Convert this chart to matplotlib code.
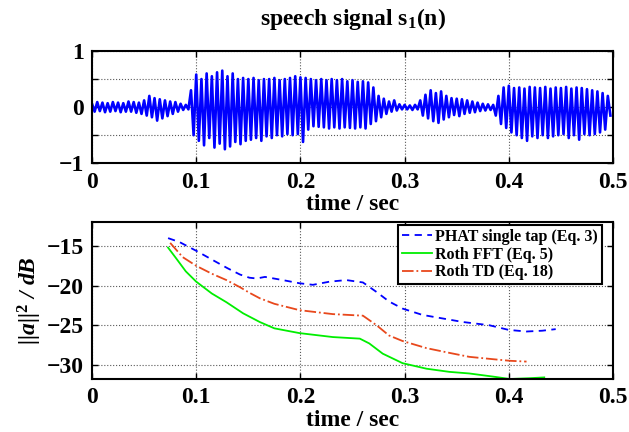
import numpy as np
import matplotlib
matplotlib.use('Agg')
import matplotlib.pyplot as plt

plt.rcParams['font.family'] = 'serif'
plt.rcParams['font.serif'] = ['Liberation Serif', 'DejaVu Serif']
plt.rcParams['font.weight'] = 'bold'
plt.rcParams['mathtext.fontset'] = 'custom'
plt.rcParams['mathtext.rm'] = 'Liberation Serif:bold'
plt.rcParams['mathtext.it'] = 'Liberation Serif:italic:bold'
plt.rcParams['mathtext.bf'] = 'Liberation Serif:bold'

# speech signal, peak values every 2.5 ms
speech = [
    0.06, -0.08, 0.09, -0.07, 0.08, -0.09, 0.07, -0.08, 0.09, -0.07,
    0.08, -0.09, 0.07, -0.08, 0.10, -0.08, 0.09, -0.10, 0.08, -0.12,
    0.12, -0.15, 0.20, -0.18, 0.16, -0.24, 0.14, -0.20, 0.12, -0.16,
    0.10, -0.12, 0.09, -0.08, 0.06, -0.05, 0.04, -0.04, 0.30, -0.50,
    0.58, -0.60, 0.50, -0.68, 0.60, -0.55, 0.55, -0.72, 0.62, -0.65,
    0.65, -0.75, 0.55, -0.70, 0.60, -0.62, 0.50, -0.66, 0.52, -0.60,
    0.50, -0.58, 0.52, -0.55, 0.48, -0.60, 0.50, -0.52, 0.50, -0.55,
    0.52, -0.50, 0.48, -0.52, 0.50, -0.48, 0.52, -0.50, 0.55, -0.48,
    0.53, -0.62, 0.52, -0.40, 0.50, -0.34, 0.48, -0.35, 0.50, -0.36,
    0.48, -0.38, 0.50, -0.36, 0.48, -0.38, 0.50, -0.36, 0.46, -0.37,
    0.48, -0.38, 0.45, -0.36, 0.46, -0.38, 0.44, -0.30, 0.35, -0.25,
    0.20, -0.18, 0.15, -0.12, 0.10, -0.08, 0.12, -0.06, 0.05, -0.04,
    0.04, -0.04, 0.03, -0.05, 0.04, -0.04, 0.12, -0.15, 0.22, -0.20,
    0.30, -0.25, 0.25, -0.28, 0.28, -0.22, 0.20, -0.18, 0.16, -0.14,
    0.15, -0.16, 0.14, -0.12, 0.12, -0.10, 0.10, -0.09, 0.08, -0.07,
    0.06, -0.06, 0.05, -0.05, 0.04, -0.15, 0.20, -0.30, 0.35, -0.37,
    0.38, -0.45, 0.34, -0.50, 0.35, -0.55, 0.33, -0.60, 0.36, -0.52,
    0.35, -0.55, 0.34, -0.50, 0.36, -0.55, 0.33, -0.52, 0.35, -0.50,
    0.34, -0.48, 0.36, -0.55, 0.33, -0.50, 0.35, -0.58, 0.34, -0.48,
    0.32, -0.50, 0.30, -0.48, 0.28, -0.45, 0.25, -0.40, 0.20, -0.15,
]
speech_t = np.arange(len(speech)) * 0.0025

# misalignment curves (dB)
phat_t = [0.073, 0.084, 0.100, 0.119, 0.130, 0.142, 0.151, 0.158, 0.166, 0.183,
          0.199, 0.212, 0.228, 0.244, 0.260, 0.273, 0.285, 0.298, 0.317, 0.343,
          0.356, 0.381, 0.400, 0.417, 0.432, 0.445]
phat_db = [-14.0, -14.5, -15.6, -17.0, -17.8, -18.6, -19.0, -19.1, -18.9, -19.3,
           -19.7, -19.9, -19.5, -19.3, -19.6, -20.8, -22.0, -22.9, -23.7, -24.3,
           -24.6, -25.0, -25.6, -25.8, -25.7, -25.5]

fft_t = [0.073, 0.081, 0.090, 0.100, 0.115, 0.129, 0.145, 0.161, 0.175, 0.199,
         0.231, 0.257, 0.266, 0.279, 0.298, 0.321, 0.343, 0.362, 0.385, 0.401,
         0.420, 0.434]
fft_db = [-15.2, -16.6, -18.2, -19.5, -21.0, -22.1, -23.5, -24.6, -25.4, -26.0,
          -26.5, -26.7, -27.3, -28.6, -29.8, -30.5, -30.9, -31.1, -31.5, -31.8,
          -31.7, -31.6]

td_t = [0.075, 0.087, 0.100, 0.115, 0.129, 0.142, 0.151, 0.161, 0.175, 0.199,
        0.231, 0.260, 0.273, 0.285, 0.298, 0.321, 0.343, 0.362, 0.385, 0.401, 0.417]
td_db = [-14.6, -16.4, -17.5, -18.5, -19.3, -20.2, -20.9, -21.6, -22.3, -23.1,
         -23.6, -23.8, -25.0, -26.3, -27.0, -27.9, -28.5, -29.0, -29.3, -29.5, -29.6]

xticks = [0, 0.1, 0.2, 0.3, 0.4, 0.5]
xtick_labels = ['0', '0.1', '0.2', '0.3', '0.4', '0.5']

fig = plt.figure(figsize=(6.29, 4.32), dpi=100)
ax1 = fig.add_axes([0.1463, 0.622, 0.8283, 0.26])
ax2 = fig.add_axes([0.1463, 0.1227, 0.8283, 0.3627])

ax1.plot(speech_t, speech, color='blue', lw=1.9)
ax1.set_xlim(0, 0.5)
ax1.set_ylim(-1, 1)
ax1.set_yticks([-1, -0.5, 0, 0.5, 1])
ax1.set_yticklabels(['\u22121', '', '0', '', '1'])
ax1.set_xticks(xticks)
ax1.set_xticklabels(xtick_labels)
ax1.set_title('speech signal s$_1$(n)', fontsize=17, fontweight='bold', pad=19)
ax1.set_xlabel('time / sec', fontsize=17, fontweight='bold', labelpad=1)

ax2.plot(phat_t, phat_db, color='blue', ls='--', lw=1.3, dashes=(4, 3),
         label='PHAT single tap (Eq. 3)')
ax2.plot(fft_t, fft_db, color='#00ee00', ls='-', lw=1.3, label='Roth FFT (Eq. 5)')
ax2.plot(td_t, td_db, color='#e8481c', ls='-.', lw=1.3, label='Roth TD (Eq. 18)')
ax2.set_xlim(0, 0.5)
ax2.set_ylim(-31.8, -12)
ax2.set_yticks([-30, -25, -20, -15])
ax2.set_xticks(xticks)
ax2.set_xticklabels(xtick_labels)
ax2.set_xlabel('time / sec', fontsize=17, fontweight='bold', labelpad=1)
ax2.set_ylabel('||a||$^{\\mathit{2}}$ / dB', fontsize=17, fontstyle='italic',
               fontweight='bold', labelpad=2)
leg = ax2.legend(loc='upper right', bbox_to_anchor=(0.979, 0.985), fontsize=11.5,
                 frameon=True, fancybox=False, borderaxespad=0, borderpad=0.25,
                 handlelength=1.9, handletextpad=0.2, labelspacing=0.12)
leg.get_frame().set_edgecolor('black')
leg.get_frame().set_linewidth(1.5)
leg.get_frame().set_alpha(1)

for ax in (ax1, ax2):
    ax.grid(True, color='0.35', ls=':', lw=0.8)
    ax.tick_params(direction='in', length=4, width=1.0, labelsize=17,
                   top=True, right=True, pad=6)
    for s in ax.spines.values():
        s.set_linewidth(1.5)
    for lab in ax.get_xticklabels() + ax.get_yticklabels():
        lab.set_fontweight('bold')

fig.savefig('out.png', dpi=100)
